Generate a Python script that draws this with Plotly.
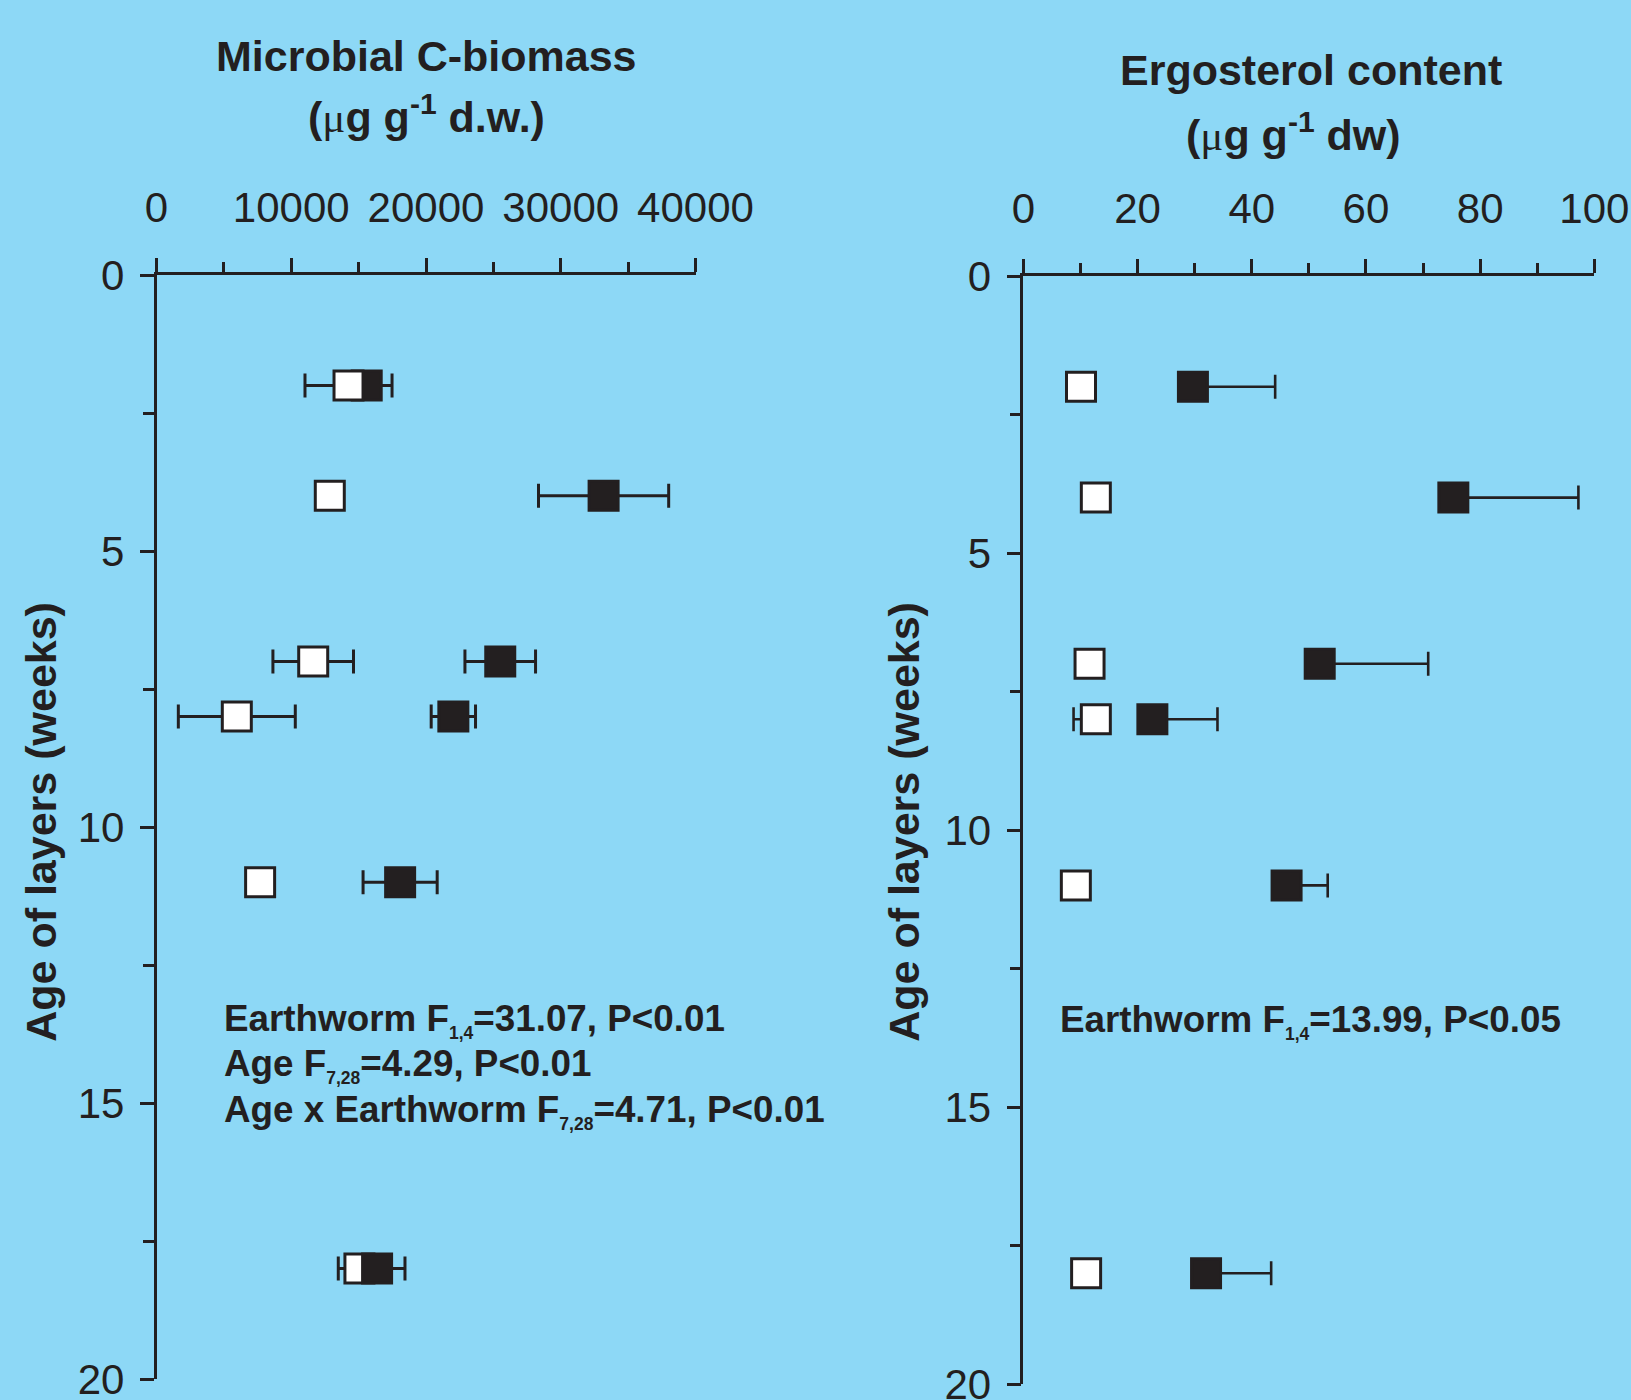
import plotly.graph_objects as go

# ---------------- data ----------------
weeks = [2, 4, 7, 8, 11, 18]

# Microbial C-biomass (ug g-1 d.w.)
cmic_without = [14250, 12860, 11630, 5960, 7690, 15060]      # open squares
cmic_without_err = [3230, 600, 2990, 4340, 600, 1570]
cmic_with = [15600, 33180, 25510, 22030, 18080, 16370]       # filled squares
cmic_with_err_hi = [900, 4830, 2620, 1645, 2750, 2070]
cmic_with_err_lo = [900, 4830, 2620, 1645, 2750, 0]

# Ergosterol content (ug g-1 dw)
ergo_without = [10.1, 12.7, 11.6, 12.7, 9.2, 11.0]
ergo_without_err_lo = [0, 0, 0, 3.9, 0, 0]
ergo_without_err_hi = [0, 0, 0, 0, 0, 0]
ergo_with = [29.7, 75.3, 51.9, 22.6, 46.1, 32.0]
ergo_with_err_hi = [14.4, 21.9, 19.0, 11.4, 7.2, 11.4]
ergo_with_err_lo = [0, 0, 0, 0, 0, 0]

cmic_ticks = [0, 10000, 20000, 30000, 40000]
cmic_minor = [5000, 15000, 25000, 35000]
ergo_ticks = [0, 20, 40, 60, 80, 100]
ergo_minor = [10, 30, 50, 70, 90]
age_ticks = [0, 5, 10, 15, 20]
age_minor = [2.5, 7.5, 12.5, 17.5]

# ---------------- style ----------------
W, H = 1631, 1400
BG = "rgb(141,216,246)"
INK = "#231F20"
FONT = "Liberation Sans, Arial, sans-serif"


def fx(px):
    return px / W


def fy(py):
    return 1 - py / H


fig = go.Figure()

MS = 29
ML = 3

# left panel: open square at week 18 sits beneath the filled one; others above
idx18 = [i for i, w in enumerate(weeks) if w == 18]
idx_rest = [i for i, w in enumerate(weeks) if w != 18]


def sel(arr, idx):
    return [arr[i] for i in idx]


def open_trace(idx, xa, ya):
    return go.Scatter(
        x=sel(cmic_without, idx), y=sel(weeks, idx), mode="markers",
        xaxis=xa, yaxis=ya, showlegend=False,
        marker=dict(symbol="square", size=MS, color="white",
                    line=dict(color=INK, width=ML)),
        error_x=dict(type="data", array=sel(cmic_without_err, idx),
                     symmetric=True, color=INK, thickness=3, width=12),
    )


fig.add_trace(open_trace(idx18, "x", "y"))
fig.add_trace(go.Scatter(
    x=cmic_with, y=weeks, mode="markers", xaxis="x", yaxis="y", showlegend=False,
    marker=dict(symbol="square", size=MS, color=INK, line=dict(color=INK, width=ML)),
    error_x=dict(type="data", array=cmic_with_err_hi, arrayminus=cmic_with_err_lo,
                 symmetric=False, color=INK, thickness=3, width=12),
))
fig.add_trace(open_trace(idx_rest, "x", "y"))

# right panel
fig.add_trace(go.Scatter(
    x=ergo_without, y=weeks, mode="markers", xaxis="x2", yaxis="y2", showlegend=False,
    marker=dict(symbol="square", size=MS, color="white", line=dict(color=INK, width=ML)),
    error_x=dict(type="data", array=ergo_without_err_hi, arrayminus=ergo_without_err_lo,
                 symmetric=False, color=INK, thickness=2.6, width=12),
))
fig.add_trace(go.Scatter(
    x=ergo_with, y=weeks, mode="markers", xaxis="x2", yaxis="y2", showlegend=False,
    marker=dict(symbol="square", size=MS, color=INK, line=dict(color=INK, width=ML)),
    error_x=dict(type="data", array=ergo_with_err_hi, arrayminus=ergo_with_err_lo,
                 symmetric=False, color=INK, thickness=2.6, width=12),
))

TICKFONT = dict(family=FONT, size=42, color=INK)


def xaxis_cfg(dom, rng, ticks, minor, anchor):
    return dict(
        domain=dom, range=rng, side="top", anchor=anchor, automargin=False,
        showline=True, linewidth=2.5, linecolor=INK, mirror=False,
        ticks="outside", ticklen=14, tickwidth=2.5, tickcolor=INK,
        tickmode="array", tickvals=ticks, ticktext=[str(t) for t in ticks],
        minor=dict(tickmode="array", tickvals=minor, ticks="outside",
                   ticklen=10.5, tickwidth=2.5, tickcolor=INK),
        showgrid=False, zeroline=False, tickfont=TICKFONT,
        ticklabelstandoff=19, ticklabeloverflow="allow", fixedrange=True,
    )


def yaxis_cfg(dom, anchor):
    return dict(
        domain=dom, range=[20, 0], anchor=anchor, automargin=False,
        showline=True, linewidth=2.5, linecolor=INK, mirror=False,
        ticks="outside", ticklen=14, tickwidth=2.5, tickcolor=INK,
        tickmode="array", tickvals=age_ticks, ticktext=[str(t) for t in age_ticks],
        minor=dict(tickmode="array", tickvals=age_minor, ticks="outside",
                   ticklen=10.5, tickwidth=2.5, tickcolor=INK),
        showgrid=False, zeroline=False, tickfont=TICKFONT,
        ticklabelstandoff=7, ticklabeloverflow="allow", fixedrange=True,
    )


fig.update_layout(
    width=W, height=H, autosize=False,
    margin=dict(l=0, r=0, t=0, b=0, pad=0, autoexpand=False),
    paper_bgcolor=BG, plot_bgcolor=BG,
    xaxis=xaxis_cfg([fx(156.5), fx(695.5)], [0, 40000], cmic_ticks, cmic_minor, "y"),
    yaxis=yaxis_cfg([fy(1379), fy(275)], "x"),
    xaxis2=xaxis_cfg([fx(1023.3), fx(1594.4)], [0, 100], ergo_ticks, ergo_minor, "y2"),
    yaxis2=yaxis_cfg([fy(1384), fy(276)], "x2"),
)

MU = '<span style="font-family:\'Liberation Serif\',serif;font-weight:normal">μ</span>'
TF = 43
SF = 36.8


def ann(text, x, y, size, xanchor="center", yanchor="bottom", angle=0):
    fig.add_annotation(
        text=text, x=fx(x), y=fy(y), xref="paper", yref="paper",
        xanchor=xanchor, yanchor=yanchor, showarrow=False, textangle=angle,
        font=dict(family=FONT, size=size, color=INK),
    )


# panel titles (y = bottom of text box)
ann("<b>Microbial C-biomass</b>", 426.3, 71.7 + 0.212 * TF + 1, TF)
ann("<b>(" + MU + "g g<sup>-1</sup> d.w.)</b>", 426.3, 133 + 0.212 * TF + 1, TF)
ann("<b>Ergosterol content</b>", 1310.8, 86 + 0.212 * TF + 1, TF)
ann("<b>(" + MU + "g g<sup>-1</sup> dw)</b>", 1293.3, 151 + 0.212 * TF + 1, TF)

# y-axis titles
ann("<b>Age of layers (weeks)</b>", 41, 821.8, 43, yanchor="middle", angle=-90)
ann("<b>Age of layers (weeks)</b>", 904, 821.8, 43, yanchor="middle", angle=-90)

# statistics
SUB = '<sub><span style="font-size:17.5px">{}</span></sub>'
stats_left = [
    "Earthworm F" + SUB.format("1,4") + "=31.07, P&lt;0.01",
    "Age F" + SUB.format("7,28") + "=4.29, P&lt;0.01",
    "Age x Earthworm F" + SUB.format("7,28") + "=4.71, P&lt;0.01",
]
stats_left_base = [1030, 1075, 1121]
for t, b in zip(stats_left, stats_left_base):
    ann("<b>" + t + "</b>", 222.3, b - 0.905 * SF - 1, SF, xanchor="left", yanchor="top")

stats_right = "Earthworm F" + SUB.format("1,4") + "=13.99, P&lt;0.05"
ann("<b>" + stats_right + "</b>", 1058.3, 1031 - 0.905 * SF - 1, SF, xanchor="left", yanchor="top")

fig.write_html(
    "out.html",
    config={"responsive": False, "displayModeBar": False},
    post_script="document.body.style.margin='0';document.body.style.overflow='hidden';",
)
